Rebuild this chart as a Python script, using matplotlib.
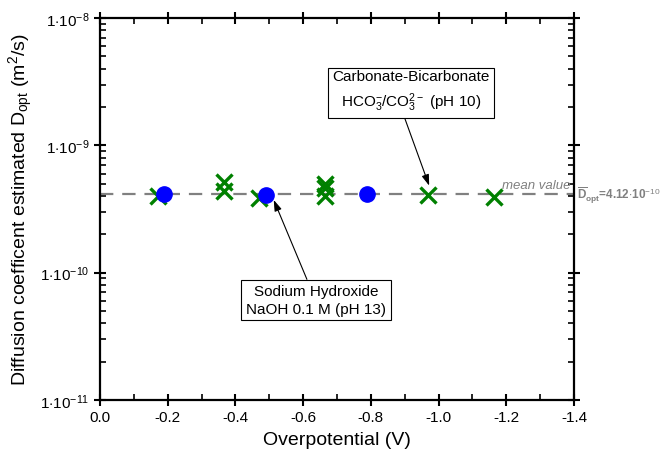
import matplotlib
matplotlib.use("Agg")
import matplotlib.pyplot as plt
import matplotlib.ticker as mticker
import numpy as np

plt.rcParams['font.family'] = ['Liberation Sans', 'DejaVu Sans']
plt.rcParams['mathtext.fontset'] = 'custom'
plt.rcParams['mathtext.rm'] = 'Liberation Sans'
plt.rcParams['mathtext.it'] = 'Liberation Sans:italic'
plt.rcParams['mathtext.bf'] = 'Liberation Sans:bold'

# NaOH 0.1 M (pH 13)
naoh_v = [-0.19, -0.49, -0.79]
naoh_d = [4.12e-10, 4.05e-10, 4.15e-10]

# Carbonate-Bicarbonate (pH 10)
carb_v = [-0.17, -0.365, -0.365, -0.47, -0.665, -0.665, -0.665, -0.97, -1.165]
carb_d = [4.0e-10, 5.15e-10, 4.35e-10, 3.85e-10, 5.0e-10, 4.6e-10, 4.0e-10, 4.1e-10, 3.9e-10]

mean_d = 4.12e-10

fig = plt.figure(figsize=(6.7, 4.64), dpi=100)
ax = fig.add_axes([100 / 670, 63 / 464, 474 / 670, 382 / 464])

ax.axhline(mean_d, color='#808080', lw=1.6, dashes=(6, 4), zorder=1)
ax.plot(carb_v, carb_d, 'x', color='#008000', ms=12, mew=2.4, zorder=3)
ax.plot(naoh_v, naoh_d, 'o', color='#0000ff', ms=11, mec='#0000ff', zorder=4)

ax.set_yscale('log')
ax.set_ylim(1e-11, 1e-8)
ax.set_xlim(0.0, -1.4)

ax.xaxis.set_major_locator(mticker.MultipleLocator(0.2))
ax.xaxis.set_minor_locator(mticker.MultipleLocator(0.1))
ax.xaxis.set_major_formatter(mticker.FuncFormatter(lambda v, p: f"{v:.1f}" if abs(v) > 1e-9 else "0.0"))
ax.yaxis.set_major_locator(mticker.FixedLocator([1e-11, 1e-10, 1e-9, 1e-8]))
ax.yaxis.set_minor_locator(mticker.LogLocator(base=10, subs=np.arange(2, 10), numticks=10))
ax.yaxis.set_minor_formatter(mticker.NullFormatter())
ax.yaxis.set_major_formatter(mticker.FuncFormatter(
    lambda v, p: r"1$\cdot$10$^{%d}$" % int(round(np.log10(v)))))

ax.tick_params(which='major', direction='inout', length=8, width=1.5,
               top=True, right=True, labelsize=11)
ax.tick_params(which='minor', direction='in', length=4, width=1.2,
               top=True, right=True)
for s in ax.spines.values():
    s.set_linewidth(1.6)

ax.set_xlabel("Overpotential (V)", fontsize=14, labelpad=5)
ax.set_ylabel(r"Diffusion coefficent estimated D$_{\rm opt}$ (m$^2$/s)", fontsize=14, labelpad=4)

box = dict(boxstyle='square,pad=0.3', fc='white', ec='black', lw=0.8)

ax.annotate("Carbonate-Bicarbonate\n" + r"HCO$_3^{-}$/CO$_3^{2-}$ (pH 10)",
            xy=(-0.975, 4.6e-10), xytext=(-0.918, 2.67e-9),
            ha='center', va='center', fontsize=11, bbox=box, linespacing=1.5,
            arrowprops=dict(arrowstyle='-|>,head_length=0.6,head_width=0.2', color='black',
                            lw=0.8, shrinkA=0, shrinkB=2, relpos=(0.45, 0.0)))
ax.annotate("Sodium Hydroxide\nNaOH 0.1 M (pH 13)",
            xy=(-0.51, 3.9e-10), xytext=(-0.638, 6.1e-11),
            ha='center', va='center', fontsize=11, bbox=box, linespacing=1.3,
            arrowprops=dict(arrowstyle='-|>,head_length=0.6,head_width=0.2', color='black',
                            lw=0.8, shrinkA=0, shrinkB=2, relpos=(0.45, 1.0)))

ax.text(-1.39, 4.4e-10, "mean value", color='#808080', style='italic',
        fontsize=9.5, ha='right', va='bottom')
ax.text(1.006, mean_d, r"$\overline{\mathbf{D}}_{\mathbf{opt}}$=4.12$\cdot$10$^{-10}$",
        transform=ax.get_yaxis_transform(), color='#808080', fontweight='bold',
        fontsize=8.5, ha='left', va='center', clip_on=False)

fig.savefig("out.png", dpi=100)
